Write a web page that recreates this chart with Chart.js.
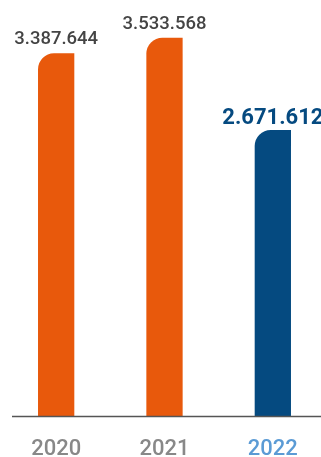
<!DOCTYPE html>
<html>
<head>
<meta charset="utf-8">
<script src="https://cdn.jsdelivr.net/npm/chart.js@4/dist/chart.umd.min.js"></script>
<style>
    html, body { margin: 0; padding: 0; background: #fff; overflow: hidden; }
    .wrap { position: relative; width: 327px; height: 457px; }
</style>
</head>
<body>
<div class="wrap"><canvas id="yearChart"></canvas></div>
<script>
const years = ['2020', '2021', '2022'];
const totals = [3387644, 3533568, 2671612];
const barColors = ['#e8590c', '#e8590c', '#054a80'];
const tickColors = ['#888888', '#888888', '#5b9bd5'];

function formatNumber(n) {
    return String(n).replace(/\B(?=(\d{3})+(?!\d))/g, '.');
}

// value on top of each bar, last one highlighted
const valueLabels = {
    id: 'valueLabels',
    afterDatasetsDraw(chart) {
        const ctx = chart.ctx;
        const meta = chart.getDatasetMeta(0);
        ctx.save();
        ctx.textAlign = 'center';
        ctx.textBaseline = 'alphabetic';
        meta.data.forEach((bar, i) => {
            const last = i === meta.data.length - 1;
            ctx.font = last ? 'bold 22px Roboto' : '500 18.5px Roboto';
            ctx.fillStyle = last ? '#054a80' : '#444444';
            ctx.fillText(formatNumber(totals[i]), bar.x, bar.y - (last ? 6 : 9));
        });
        ctx.restore();
    }
};

// baseline under the bars
const baseLine = {
    id: 'baseLine',
    afterDatasetsDraw(chart) {
        const ctx = chart.ctx;
        const y = chart.chartArea.bottom + 0.5;
        ctx.save();
        ctx.strokeStyle = '#555555';
        ctx.lineWidth = 1.5;
        ctx.beginPath();
        ctx.moveTo(12, y);
        ctx.lineTo(chart.width, y);
        ctx.stroke();
        ctx.restore();
    }
};

new Chart(document.getElementById('yearChart'), {
    type: 'bar',
    data: {
        labels: years,
        datasets: [{
            data: totals,
            backgroundColor: barColors,
            borderRadius: { topLeft: 16, topRight: 0, bottomLeft: 0, bottomRight: 0 },
            borderSkipped: false,
            categoryPercentage: 1,
            barPercentage: 0.335
        }]
    },
    options: {
        responsive: true,
        maintainAspectRatio: false,
        animation: false,
        layout: { padding: { left: 2, right: 0, top: 0, bottom: 0 } },
        plugins: {
            legend: { display: false },
            tooltip: { enabled: false }
        },
        scales: {
            x: {
                grid: { display: false },
                border: { display: false },
                ticks: {
                    color: tickColors,
                    font: { family: 'Roboto', size: 22, weight: '500' },
                    padding: 12
                },
                afterFit(scale) { scale.height = 41; }
            },
            y: {
                display: false,
                min: 0,
                max: 3886000
            }
        }
    },
    plugins: [valueLabels, baseLine]
});
</script>
</body>
</html>
